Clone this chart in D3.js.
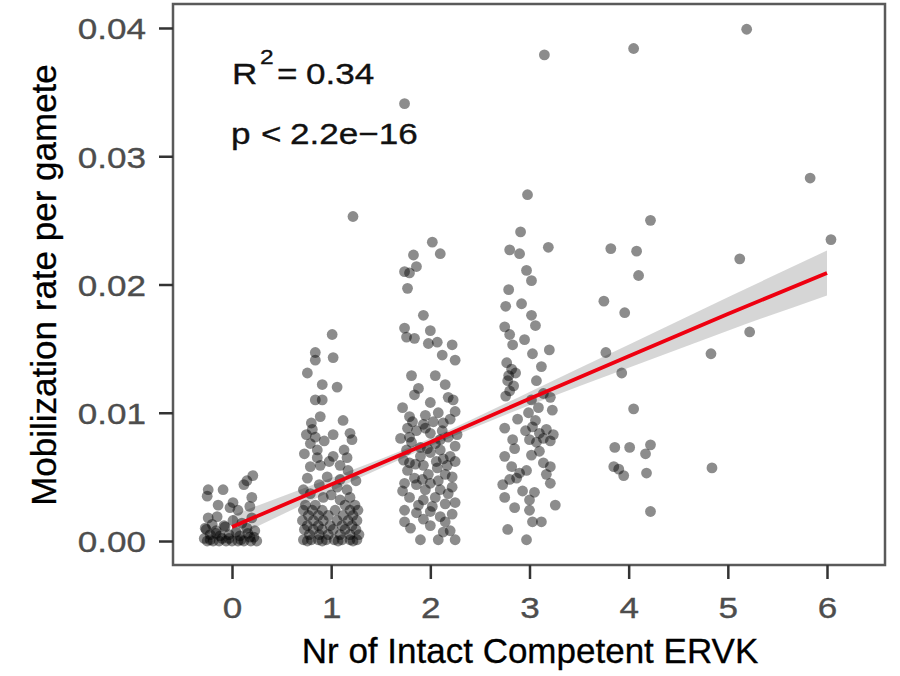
<!DOCTYPE html>
<html><head><meta charset="utf-8">
<script src="https://cdn.jsdelivr.net/npm/d3@7"></script>
<style>html,body{margin:0;padding:0;background:#fff}svg{display:block}</style>
</head><body>
<svg id="c" width="900" height="676"></svg>
<script>
// ---- data: [jittered ERVK count, mobilization rate] per group ----
const group0 = [[0.21,0.0051],[0.15,0.0047],[0.12,0.0044],[-0.24,0.0040],[-0.09,0.0040],[-0.25,0.0035],[0.01,0.0030],[0.20,0.0034],[-0.14,0.0028],[-0.02,0.0026],[0.06,0.0024],[0.18,0.0027],[-0.24,0.0018],[-0.15,0.0019],[0.20,0.0018],[0.01,0.0016],[0.10,0.0014],[-0.20,0.0013],[-0.07,0.0011],[0.15,0.0010],[-0.26,0.0009],[-0.16,0.0008],[0.04,0.0007],[0.23,0.0008],[-0.22,0.0005],[-0.12,0.0004],[-0.03,0.0005],[0.08,0.0004],[0.18,0.0003],[-0.25,0],[-0.19,0],[-0.13,0],[-0.06,0],[0.00,0],[0.06,0],[0.12,0],[0.19,0],[0.25,0],[-0.28,0.0002],[-0.10,0.0002],[-0.22,0.0001],[-0.16,0.0006],[-0.03,0.0002],[0.09,0.0001],[0.16,0.0006],[0.22,0.0003],[-0.27,0.0010],[-0.08,0.0012]];
const group1 = [[1.22,0.0253],[1.01,0.0161],[0.84,0.0147],[1.02,0.0143],[0.84,0.0141],[0.76,0.0131],[0.91,0.0122],[1.06,0.0120],[0.84,0.0110],[0.91,0.0110],[0.89,0.0097],[1.12,0.0094],[1.19,0.0084],[1.21,0.0079],[1.02,0.0083],[0.81,0.0087],[0.84,0.0081],[0.79,0.0076],[0.86,0.0071],[0.86,0.0065],[1.02,0.0066],[1.16,0.0065],[0.79,0.0058],[0.89,0.0059],[1.09,0.0059],[1.17,0.0055],[0.76,0.0049],[0.96,0.0050],[1.09,0.0048],[1.06,0.0042],[1.16,0.0040],[0.79,0.0037],[0.92,0.0034],[1.09,0.0032],[1.19,0.0034],
 [0.73,0.0068],[0.75,0.0083],[0.80,0.0092],[0.93,0.0078],[0.98,0.0062],[1.13,0.0071],[1.25,0.0047],[0.72,0.0040],[0.88,0.0044],[1.00,0.0036],
 [0.74,0.0028],[0.84,0.0028],[1.14,0.0028],[1.24,0.0028],
 [0.72,0.0024],[0.81,0.0024],[0.91,0.0024],[1.04,0.0024],[1.19,0.0024],[1.27,0.0024],
 [0.77,0.0020],[0.87,0.0020],[0.97,0.0020],[1.12,0.0020],[1.22,0.0020],
 [0.71,0.0016],[0.82,0.0016],[0.92,0.0016],[1.06,0.0016],[1.17,0.0016],[1.26,0.0016],
 [0.76,0.0012],[0.87,0.0012],[0.99,0.0012],[1.11,0.0012],[1.21,0.0012],
 [0.73,0.0009],[0.82,0.0009],[0.91,0.0009],[1.02,0.0009],[1.14,0.0009],[1.25,0.0009],
 [0.78,0.0005],[0.88,0.0005],[0.97,0.0005],[1.09,0.0005],[1.19,0.0005],[1.28,0.0005],
 [0.72,0.0001],[0.80,0.0001],[0.87,0.0001],[0.95,0.0001],[1.03,0.0001],[1.11,0.0001],[1.19,0.0001],[1.26,0.0001],
 [0.76,0],[0.91,0],[1.07,0],[1.22,0]];
const group2 = [[1.74,0.0341],[2.02,0.0233],[2.10,0.0224],[1.83,0.0223],[1.86,0.0214],[1.74,0.0210],[1.79,0.0209],[1.77,0.0197],[1.93,0.0176],[1.74,0.0166],[2.00,0.0164],[1.76,0.0159],[1.84,0.0158],[1.98,0.0154],[2.07,0.0155],[2.22,0.0153],[2.12,0.0145],[2.25,0.0141],[1.81,0.0129],[2.05,0.0129],[2.15,0.0122],[2.23,0.0110],[2.25,0.0101],[1.84,0.0114],[2.00,0.0108],[1.79,0.0097],[1.95,0.0098],[2.03,0.0093],[2.13,0.0092],[1.86,0.0086],[1.79,0.0081],[2.00,0.0084],[2.10,0.0079],[2.18,0.0081],[2.27,0.0083],[1.76,0.0071],[1.90,0.0073],[2.00,0.0069],[2.10,0.0071],[2.20,0.0066],[1.79,0.0061],[1.93,0.0059],[2.07,0.0057],[2.17,0.0059],[2.25,0.0062],[1.74,0.0045],[1.86,0.0044],[2.00,0.0045],[2.10,0.0040],[2.22,0.0042],[1.79,0.0034],[1.93,0.0032],[2.05,0.0034],[2.15,0.0029],[1.74,0.0024],[1.86,0.0022],[2.00,0.0023],[2.10,0.0019],[2.22,0.0021],[1.74,0.0015],[1.93,0.0017],[2.15,0.0015],[2.13,0.0007],[1.90,0.0001],[2.08,0.0001],[2.25,0.0001],
 [1.72,0.0104],[1.88,0.0119],[2.18,0.0112],[1.95,0.0088],[1.81,0.0077],[2.05,0.0076],[1.90,0.0066],[2.13,0.0064],[1.77,0.0055],[1.98,0.0052],[2.22,0.0050],[1.84,0.0049],[2.08,0.0047],[1.72,0.0039],[1.95,0.0040],[2.18,0.0037],[1.88,0.0028],[2.02,0.0027],[2.25,0.0030],[1.80,0.0010],[2.00,0.0012],[2.20,0.0008],[1.93,0.0091],[2.08,0.0100],[1.77,0.0088],[2.25,0.0074],[1.85,0.0060],[2.15,0.0052],
 [1.70,0.0080],[1.73,0.0063],[1.82,0.0093],[1.97,0.0072],[2.12,0.0086],[2.20,0.0095],[1.92,0.0048],[2.06,0.0062]];
const group3 = [[3.15,0.0379],[2.98,0.0270],[2.91,0.0241],[3.19,0.0229],[2.80,0.0227],[2.90,0.0224],[2.97,0.0211],[3.02,0.0203],[2.79,0.0196],[2.76,0.0183],[3.02,0.0176],[3.06,0.0168],[2.75,0.0167],[2.80,0.0161],[2.95,0.0157],[2.83,0.0153],[3.03,0.0146],[3.20,0.0149],
 [2.77,0.0139],[2.82,0.0134],[2.79,0.0129],[2.86,0.0131],[2.78,0.0125],[2.84,0.0121],[2.80,0.0117],[2.76,0.0113],
 [3.07,0.0125],[3.14,0.0115],[3.21,0.0112],[3.02,0.0110],[3.09,0.0104],[2.99,0.0100],[3.06,0.0094],[3.23,0.0102],[2.75,0.0088],
 [2.96,0.0086],[3.03,0.0089],[3.10,0.0084],[3.17,0.0087],[3.24,0.0083],[3.00,0.0079],[3.07,0.0077],[3.14,0.0080],[3.21,0.0078],
 [2.83,0.0079],[2.85,0.0072],[2.75,0.0066],[3.02,0.0067],[3.14,0.0061],[3.21,0.0058],[2.82,0.0058],[2.90,0.0053],[2.97,0.0055],[2.87,0.0049],[3.21,0.0045],[2.73,0.0044],[2.80,0.0048],[3.05,0.0038],[2.75,0.0034],[3.00,0.0032],[3.26,0.0028],[3.00,0.0024],[3.03,0.0015],[3.12,0.0015],[2.78,0.0009],[2.97,0.0001],
 [2.92,0.0185],[3.12,0.0136],[2.88,0.0095],[3.10,0.0070],[2.93,0.0039],[3.17,0.0052],[2.85,0.0026]];
const group4 = [[4.05,0.0384],[4.22,0.0250],[3.82,0.0228],[4.08,0.0226],[4.10,0.0207],[3.75,0.0187],[3.96,0.0178],[3.77,0.0147],[3.93,0.0131],[4.05,0.0103],[3.86,0.0073],[4.01,0.0073],[4.22,0.0075],[4.17,0.0068],[3.85,0.0058],[3.90,0.0056],[3.95,0.0051],[4.18,0.0053],[4.22,0.0023]];
const group5 = [[5.19,0.0399],[5.12,0.0220],[5.22,0.0163],[4.83,0.0146],[4.84,0.0057]];
const group6 = [[5.83,0.0283],[6.04,0.0235]];

// regression fit and 95% band, read at integer counts
const fitX   = [0, 1, 2, 3, 4, 5, 6];
const fitY   = [0.0011, 0.0044, 0.0077, 0.0111, 0.0144, 0.0177, 0.0209];
const ciLow  = [0.0002, 0.00388, 0.0074, 0.01058, 0.0135, 0.0164, 0.01915];
const ciHigh = [0.0020, 0.00492, 0.0080, 0.01162, 0.0153, 0.0190, 0.02265];

const xTicks = [0, 1, 2, 3, 4, 5, 6];
const yTicks = [0.00, 0.01, 0.02, 0.03, 0.04];
const yTickLabels = ["0.00", "0.01", "0.02", "0.03", "0.04"];
const xTitle = "Nr of Intact Competent ERVK";
const yTitle = "Mobilization rate per gamete";

// ---- drawing ----
const svg = d3.select("#c");
const L = 173, R = 885, T = 4, B = 565;
const x = d3.scaleLinear().domain([-0.6, 6.6]).range([172.5, 886.5]);
const y = d3.scaleLinear().domain([-0.00187, 0.04187]).range([B, T]);
const FONT = "'Liberation Sans', Arial, Helvetica, sans-serif";

// band
const band = fitX.map((v, i) => ({x: v, lo: ciLow[i], hi: ciHigh[i], f: fitY[i]}));
svg.append("path").datum(band)
  .attr("d", d3.area().x(d => x(d.x)).y0(d => y(d.lo)).y1(d => y(d.hi)).curve(d3.curveNatural))
  .attr("fill", "#999999").attr("fill-opacity", 0.4);

// points
const pts = [].concat(group0, group1, group2, group3, group4, group5, group6);
svg.append("g").selectAll("circle").data(pts).join("circle")
  .attr("cx", d => x(d[0])).attr("cy", d => y(d[1])).attr("r", 5.4)
  .attr("fill", "#000").attr("fill-opacity", 0.45);

// fit line
svg.append("path").datum(band)
  .attr("d", d3.line().x(d => x(d.x)).y(d => y(d.f)))
  .attr("fill", "none").attr("stroke", "#ee0010").attr("stroke-width", 3.8);

// panel border
svg.append("rect").attr("x", L).attr("y", T).attr("width", R - L).attr("height", B - T)
  .attr("fill", "none").attr("stroke", "#5a5a5a").attr("stroke-width", 2.5);

// y axis
const yAxis = svg.append("g").attr("transform", `translate(${L},0)`)
  .call(d3.axisLeft(y).tickValues(yTicks).tickSize(14).tickPadding(0).tickFormat((d, i) => ""));
yAxis.select(".domain").remove();
yAxis.selectAll(".tick line").attr("stroke", "#333").attr("stroke-width", 2.5);
yAxis.selectAll(".tick").append("text")
  .attr("transform", "translate(-27,0) scale(1.17,1)")
  .attr("text-anchor", "end").attr("dy", "0.36em")
  .attr("fill", "#4d4d4d").attr("stroke", "#4d4d4d").attr("stroke-width", 0.35)
  .style("font-family", FONT).style("font-size", "30px")
  .text((d, i) => yTickLabels[i]);

// x axis
const xAxis = svg.append("g").attr("transform", `translate(0,${B})`)
  .call(d3.axisBottom(x).tickValues(xTicks).tickSize(14).tickFormat(() => ""));
xAxis.select(".domain").remove();
xAxis.selectAll(".tick line").attr("stroke", "#333").attr("stroke-width", 2.5);
xAxis.selectAll(".tick").append("text")
  .attr("transform", "translate(0,53) scale(1.17,1)")
  .attr("text-anchor", "middle")
  .attr("fill", "#4d4d4d").attr("stroke", "#4d4d4d").attr("stroke-width", 0.35)
  .style("font-family", FONT).style("font-size", "30px")
  .text(d => d);

// titles
svg.append("text").attr("x", 530).attr("y", 663).attr("text-anchor", "middle")
  .style("font-family", FONT).style("font-size", "35px").attr("fill", "#000")
  .attr("stroke", "#000").attr("stroke-width", 0.3).text(xTitle);
svg.append("text").attr("transform", "translate(56,285) rotate(-90)").attr("text-anchor", "middle")
  .style("font-family", FONT).style("font-size", "35px").attr("fill", "#000")
  .attr("stroke", "#000").attr("stroke-width", 0.3).text(yTitle);

// annotation
function ann(tx, ty, str, size) {
  svg.append("text").attr("transform", `translate(${tx},${ty}) scale(1.17,1)`)
    .style("font-family", FONT).style("font-size", size + "px")
    .attr("fill", "#111").attr("stroke", "#111").attr("stroke-width", 0.35).text(str);
}
ann(232, 84, "R", 30);
ann(260, 64, "2", 21);
ann(277, 84, "=", 30);
ann(306, 84, "0.34", 30);
ann(231, 144, "p", 30);
ann(261, 144, "<", 30);
ann(290, 144, "2.2e\u221216", 30);
</script>
</body></html>
